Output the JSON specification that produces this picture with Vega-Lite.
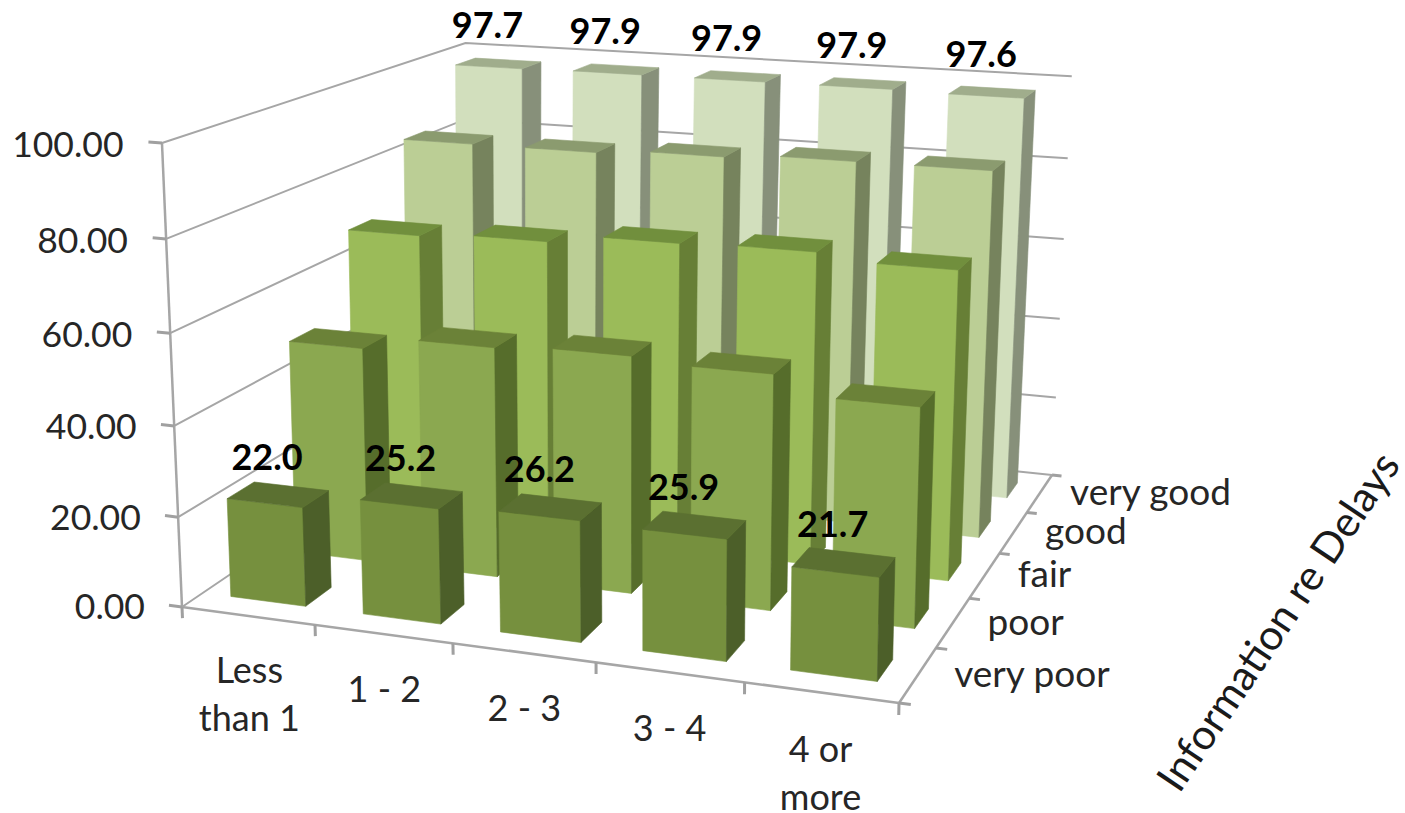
{
  "$schema": "https://vega.github.io/schema/vega-lite/v6.json",
  "width": 1405,
  "height": 813,
  "padding": 0,
  "autosize": "none",
  "background": "white",
  "config": {"view": {"stroke": null}},
  "datasets": {
    "bars": [
      {"rating": "very good", "hours": "Less than 1", "value": 97.7},
      {"rating": "very good", "hours": "1 - 2", "value": 97.9},
      {"rating": "very good", "hours": "2 - 3", "value": 97.9},
      {"rating": "very good", "hours": "3 - 4", "value": 97.9},
      {"rating": "very good", "hours": "4 or more", "value": 97.6},
      {"rating": "good", "hours": "Less than 1", "value": 84},
      {"rating": "good", "hours": "1 - 2", "value": 84},
      {"rating": "good", "hours": "2 - 3", "value": 85},
      {"rating": "good", "hours": "3 - 4", "value": 86},
      {"rating": "good", "hours": "4 or more", "value": 86},
      {"rating": "fair", "hours": "Less than 1", "value": 68},
      {"rating": "fair", "hours": "1 - 2", "value": 69},
      {"rating": "fair", "hours": "2 - 3", "value": 71},
      {"rating": "fair", "hours": "3 - 4", "value": 71.5},
      {"rating": "fair", "hours": "4 or more", "value": 70},
      {"rating": "poor", "hours": "Less than 1", "value": 49},
      {"rating": "poor", "hours": "1 - 2", "value": 52},
      {"rating": "poor", "hours": "2 - 3", "value": 53},
      {"rating": "poor", "hours": "3 - 4", "value": 52},
      {"rating": "poor", "hours": "4 or more", "value": 48},
      {"rating": "very poor", "hours": "Less than 1", "value": 22.0},
      {"rating": "very poor", "hours": "1 - 2", "value": 25.2},
      {"rating": "very poor", "hours": "2 - 3", "value": 26.2},
      {"rating": "very poor", "hours": "3 - 4", "value": 25.9},
      {"rating": "very poor", "hours": "4 or more", "value": 21.7}
    ],
    "levels": [
      {"level": 0}, {"level": 20}, {"level": 40}, {"level": 60}, {"level": 80}, {"level": 100}
    ],
    "edges": [
      {"edge": "value"}, {"edge": "hours"}, {"edge": "rating"}
    ],
    "ticks": [
      {"axis": "value", "n": 0}, {"axis": "value", "n": 1}, {"axis": "value", "n": 2},
      {"axis": "value", "n": 3}, {"axis": "value", "n": 4}, {"axis": "value", "n": 5},
      {"axis": "hours", "n": 0}, {"axis": "hours", "n": 1}, {"axis": "hours", "n": 2},
      {"axis": "hours", "n": 3}, {"axis": "hours", "n": 4}, {"axis": "hours", "n": 5},
      {"axis": "rating", "n": 0}, {"axis": "rating", "n": 1}, {"axis": "rating", "n": 2},
      {"axis": "rating", "n": 3}, {"axis": "rating", "n": 4}, {"axis": "rating", "n": 5}
    ],
    "hourLabels": [
      {"col": 0, "label": "Less\nthan 1"},
      {"col": 1, "label": "1 - 2"},
      {"col": 2, "label": "2 - 3"},
      {"col": 3, "label": "3 - 4"},
      {"col": 4, "label": "4 or\nmore"}
    ],
    "ratingLabels": [
      {"row": 0, "label": "very poor"},
      {"row": 1, "label": "poor"},
      {"row": 2, "label": "fair"},
      {"row": 3, "label": "good"},
      {"row": 4, "label": "very good"}
    ],
    "depthTitle": [{"label": "Information re Delays"}]
  },
  "encoding": {
    "x": {"field": "px", "type": "quantitative", "axis": null, "scale": {"domain": [0, 1405], "nice": false, "zero": false}},
    "y": {"field": "py", "type": "quantitative", "axis": null, "scale": {"domain": [813, 0], "nice": false, "zero": false}}
  },
  "layer": [
    {
      "data": {"name": "levels"},
      "transform": [
        {"calculate": "[0,1,2]", "as": "v"},
        {"flatten": ["v"]},
        {"calculate": "[0,0,1][datum.v]", "as": "X"},
        {"calculate": "[0,1,1][datum.v]", "as": "Y"},
        {"calculate": "datum.level/100", "as": "Z"},
        {"calculate": "1-0.089*datum.X+0.248*datum.Y-0.04*datum.Z", "as": "w"},
        {"calculate": "(182+637*datum.X+400.3*datum.Y-26.5*datum.Z+6.5*datum.Y*datum.Z)/datum.w", "as": "px"},
        {"calculate": "(607+33.4*datum.X-89.9*datum.Y-469.7*datum.Z+4.5*datum.Y*datum.Z)/datum.w", "as": "py"}
      ],
      "mark": {"type": "line", "stroke": "#A6A6A6", "strokeWidth": 2},
      "encoding": {"detail": {"field": "level"}, "order": {"field": "v"}}
    },
    {
      "data": {"name": "edges"},
      "transform": [
        {"calculate": "[0,1]", "as": "v"},
        {"flatten": ["v"]},
        {"calculate": "datum.edge=='value'?0:datum.edge=='hours'?datum.v:1", "as": "X"},
        {"calculate": "datum.edge=='rating'?datum.v:0", "as": "Y"},
        {"calculate": "datum.edge=='value'?datum.v:0", "as": "Z"},
        {"calculate": "1-0.089*datum.X+0.248*datum.Y-0.04*datum.Z", "as": "w"},
        {"calculate": "(182+637*datum.X+400.3*datum.Y-26.5*datum.Z+6.5*datum.Y*datum.Z)/datum.w", "as": "px"},
        {"calculate": "(607+33.4*datum.X-89.9*datum.Y-469.7*datum.Z+4.5*datum.Y*datum.Z)/datum.w", "as": "py"}
      ],
      "mark": {"type": "line", "stroke": "#A6A6A6", "strokeWidth": 2.5},
      "encoding": {"detail": {"field": "edge"}, "order": {"field": "v"}}
    },
    {
      "data": {"name": "ticks"},
      "transform": [
        {"calculate": "[0,1]", "as": "v"},
        {"flatten": ["v"]},
        {"calculate": "datum.axis+datum.n", "as": "tick"},
        {"calculate": "datum.axis=='value'?-0.02*datum.v:datum.axis=='hours'?datum.n/5:1+0.015*datum.v", "as": "X"},
        {"calculate": "datum.axis=='rating'?datum.n/5:0", "as": "Y"},
        {"calculate": "datum.axis=='value'?datum.n/5:datum.axis=='hours'?-0.025*datum.v:0", "as": "Z"},
        {"calculate": "1-0.089*datum.X+0.248*datum.Y-0.04*datum.Z", "as": "w"},
        {"calculate": "(182+637*datum.X+400.3*datum.Y-26.5*datum.Z+6.5*datum.Y*datum.Z)/datum.w", "as": "px"},
        {"calculate": "(607+33.4*datum.X-89.9*datum.Y-469.7*datum.Z+4.5*datum.Y*datum.Z)/datum.w", "as": "py"}
      ],
      "mark": {"type": "line", "stroke": "#A0A0A0", "strokeWidth": 3},
      "encoding": {"detail": {"field": "tick"}, "order": {"field": "v"}}
    },
    {
      "data": {"name": "bars"},
      "transform": [
        {"calculate": "indexof(['Less than 1','1 - 2','2 - 3','3 - 4','4 or more'],datum.hours)", "as": "col"},
        {"calculate": "indexof(['very poor','poor','fair','good','very good'],datum.rating)", "as": "row"},
        {"calculate": "['front','side','top']", "as": "face"},
        {"flatten": ["face"]},
        {"calculate": "[0,1,2,3]", "as": "v"},
        {"flatten": ["v"]},
        {"calculate": "(datum.col+0.5)/5+0.057*(datum.face=='side'?1:datum.face=='front'?[-1,1,1,-1][datum.v]:[-1,-1,1,1][datum.v])", "as": "X"},
        {"calculate": "(datum.row+0.5)/5+0.04*(datum.face=='front'?-1:[-1,1,1,-1][datum.v])", "as": "Y"},
        {"calculate": "datum.face=='top'||datum.v<2?datum.value/100:0", "as": "Z"},
        {"calculate": "1-0.089*datum.X+0.248*datum.Y-0.04*datum.Z", "as": "w"},
        {"calculate": "(182+637*datum.X+400.3*datum.Y-26.5*datum.Z+6.5*datum.Y*datum.Z)/datum.w", "as": "px"},
        {"calculate": "(607+33.4*datum.X-89.9*datum.Y-469.7*datum.Z+4.5*datum.Y*datum.Z)/datum.w", "as": "py"},
        {"calculate": "datum.rating+' '+datum.face", "as": "shade"},
        {"calculate": "datum.rating+' '+datum.hours+' '+datum.face", "as": "facet"}
      ],
      "mark": {"type": "line", "strokeWidth": 0.6, "interpolate": "linear-closed"},
      "encoding": {
        "detail": {"field": "facet"},
        "order": {"field": "v"},
        "fill": {
          "field": "shade", "legend": null,
          "scale": {
            "domain": ["very poor front", "very poor side", "very poor top", "poor front", "poor side", "poor top", "fair front", "fair side", "fair top", "good front", "good side", "good top", "very good front", "very good side", "very good top"],
            "range": ["#76903E", "#4C5F29", "#5B7031", "#8BA850", "#566D2B", "#6B8238", "#9BBB59", "#677F36", "#718F3D", "#BBCE95", "#76835D", "#8B9B6F", "#D2DFBD", "#87907A", "#A0AD8C"]
          }
        },
        "stroke": {
          "field": "shade", "legend": null,
          "scale": {
            "domain": ["very poor front", "very poor side", "very poor top", "poor front", "poor side", "poor top", "fair front", "fair side", "fair top", "good front", "good side", "good top", "very good front", "very good side", "very good top"],
            "range": ["#76903E", "#4C5F29", "#5B7031", "#8BA850", "#566D2B", "#6B8238", "#9BBB59", "#677F36", "#718F3D", "#BBCE95", "#76835D", "#8B9B6F", "#D2DFBD", "#87907A", "#A0AD8C"]
          }
        }
      }
    },
    {
      "data": {"name": "levels"},
      "transform": [
        {"calculate": "-0.057", "as": "X"},
        {"calculate": "0", "as": "Y"},
        {"calculate": "datum.level/100", "as": "Z"},
        {"calculate": "1-0.089*datum.X+0.248*datum.Y-0.04*datum.Z", "as": "w"},
        {"calculate": "(182+637*datum.X+400.3*datum.Y-26.5*datum.Z+6.5*datum.Y*datum.Z)/datum.w", "as": "px"},
        {"calculate": "(607+33.4*datum.X-89.9*datum.Y-469.7*datum.Z+4.5*datum.Y*datum.Z)/datum.w", "as": "py"}
      ],
      "mark": {"type": "text", "align": "right", "baseline": "middle", "dy": 6, "font": "Lato", "fontSize": 35.5, "fill": "#262626"},
      "encoding": {"text": {"field": "level", "type": "quantitative", "format": ".2f"}}
    },
    {
      "data": {"name": "hourLabels"},
      "transform": [
        {"calculate": "(datum.col+0.5)/5", "as": "X"},
        {"calculate": "0", "as": "Y"},
        {"calculate": "-0.087", "as": "Z"},
        {"calculate": "1-0.089*datum.X+0.248*datum.Y-0.04*datum.Z", "as": "w"},
        {"calculate": "(182+637*datum.X+400.3*datum.Y-26.5*datum.Z+6.5*datum.Y*datum.Z)/datum.w", "as": "px"},
        {"calculate": "(607+33.4*datum.X-89.9*datum.Y-469.7*datum.Z+4.5*datum.Y*datum.Z)/datum.w", "as": "py"}
      ],
      "mark": {"type": "text", "align": "center", "baseline": "top", "font": "Lato", "fontSize": 36, "lineHeight": 48, "lineBreak": "\n", "fill": "#262626"},
      "encoding": {"text": {"field": "label"}}
    },
    {
      "data": {"name": "ratingLabels"},
      "transform": [
        {"calculate": "1.047", "as": "X"},
        {"calculate": "(datum.row+0.5)/5", "as": "Y"},
        {"calculate": "0", "as": "Z"},
        {"calculate": "1-0.089*datum.X+0.248*datum.Y-0.04*datum.Z", "as": "w"},
        {"calculate": "(182+637*datum.X+400.3*datum.Y-26.5*datum.Z+6.5*datum.Y*datum.Z)/datum.w", "as": "px"},
        {"calculate": "(607+33.4*datum.X-89.9*datum.Y-469.7*datum.Z+4.5*datum.Y*datum.Z)/datum.w", "as": "py"}
      ],
      "mark": {"type": "text", "align": "left", "baseline": "middle", "dy": -3, "font": "Lato", "fontSize": 37, "fill": "#262626"},
      "encoding": {"text": {"field": "label"}}
    },
    {
      "data": {"name": "depthTitle"},
      "transform": [
        {"calculate": "1.412", "as": "X"},
        {"calculate": "0.45", "as": "Y"},
        {"calculate": "0", "as": "Z"},
        {"calculate": "1-0.089*datum.X+0.248*datum.Y-0.04*datum.Z", "as": "w"},
        {"calculate": "(182+637*datum.X+400.3*datum.Y-26.5*datum.Z+6.5*datum.Y*datum.Z)/datum.w", "as": "px"},
        {"calculate": "(607+33.4*datum.X-89.9*datum.Y-469.7*datum.Z+4.5*datum.Y*datum.Z)/datum.w", "as": "py"}
      ],
      "mark": {"type": "text", "align": "center", "baseline": "middle", "font": "Lato", "fontSize": 42, "angle": -56, "fill": "#1a1a1a"},
      "encoding": {"text": {"field": "label"}}
    },
    {
      "data": {"name": "bars"},
      "transform": [
        {"filter": "datum.rating=='very poor'||datum.rating=='very good'"},
        {"calculate": "indexof(['Less than 1','1 - 2','2 - 3','3 - 4','4 or more'],datum.hours)", "as": "col"},
        {"calculate": "indexof(['very poor','poor','fair','good','very good'],datum.rating)", "as": "row"},
        {"calculate": "(datum.col+0.5)/5", "as": "X"},
        {"calculate": "(datum.row+0.5)/5", "as": "Y"},
        {"calculate": "datum.value/100", "as": "Z"},
        {"calculate": "1-0.089*datum.X+0.248*datum.Y-0.04*datum.Z", "as": "w"},
        {"calculate": "(182+637*datum.X+400.3*datum.Y-26.5*datum.Z+6.5*datum.Y*datum.Z)/datum.w", "as": "px"},
        {"calculate": "(607+33.4*datum.X-89.9*datum.Y-469.7*datum.Z+4.5*datum.Y*datum.Z)/datum.w", "as": "py"}
      ],
      "mark": {"type": "text", "align": "center", "baseline": "middle", "dx": -11, "dy": -36, "font": "Lato", "fontWeight": "bold", "fontSize": 36, "fill": "black"},
      "encoding": {"text": {"field": "value", "type": "quantitative", "format": ".1f"}}
    }
  ]
}
